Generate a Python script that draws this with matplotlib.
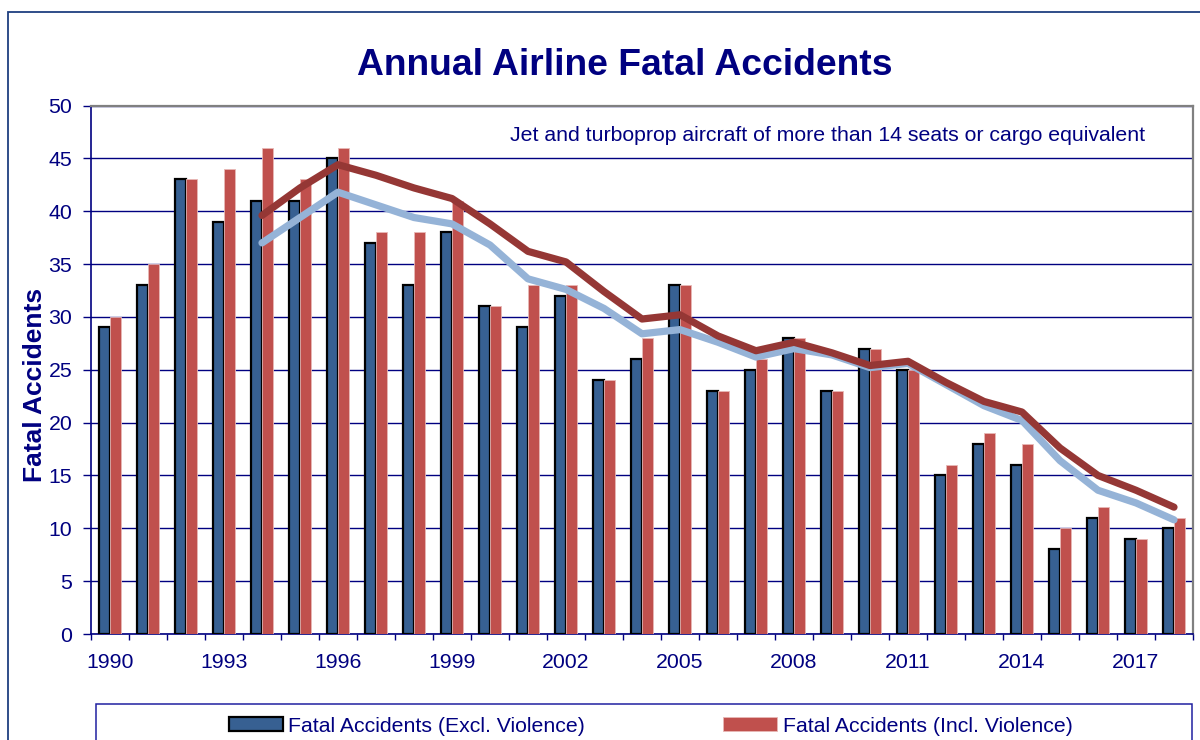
import matplotlib
matplotlib.use("Agg")
import matplotlib.pyplot as plt
from matplotlib.patches import Rectangle
import numpy as np

plt.rcParams['font.family'] = ['Liberation Sans', 'DejaVu Sans']

years = list(range(1990, 2019))
excl_violence = [29, 33, 43, 39, 41, 41, 45, 37, 33, 38, 31, 29, 32, 24, 26, 33,
                 23, 25, 28, 23, 27, 25, 15, 18, 16, 8, 11, 9, 10]
incl_violence = [30, 35, 43, 44, 46, 43, 46, 38, 38, 41, 31, 33, 33, 24, 28, 33,
                 23, 26, 28, 23, 27, 25, 16, 19, 18, 10, 12, 9, 11]
# 5-year trend lines (start 1994)
trend_years = list(range(1994, 2019))
excl_trend = [37.0, 39.4, 41.8, 40.6, 39.4, 38.8, 36.8, 33.6, 32.6, 30.8, 28.4, 28.8,
              27.6, 26.2, 27.0, 26.4, 25.2, 25.6, 23.6, 21.6, 20.2, 16.4, 13.6, 12.4, 10.8]
incl_trend = [39.6, 42.2, 44.4, 43.4, 42.2, 41.2, 38.8, 36.2, 35.2, 32.4, 29.8, 30.2,
              28.2, 26.8, 27.6, 26.6, 25.4, 25.8, 23.8, 22.0, 21.0, 17.6, 15.0, 13.6, 12.0]
label_years = [1990, 1993, 1996, 1999, 2002, 2005, 2008, 2011, 2014, 2017]

NAVY = '#000080'
BLUE = '#376092'
RED = '#C0504D'
DARKRED = '#953735'
LIGHTBLUE = '#95B3D7'
GREY = '#808080'

W, H = 1200, 740
fig = plt.figure(figsize=(12, 7.4), dpi=100)

def fx(px):
    return px / W

def fy(py):
    return 1 - py / H

# outer frame
fig.patches.append(Rectangle((fx(8), -0.2), 1.3, fy(12) + 0.2, transform=fig.transFigure,
                             fill=False, edgecolor='#1F3F80', linewidth=1.3, zorder=0))

left, right, top, bottom = 91, 1193, 105.5, 634
ax = fig.add_axes([fx(left), fy(bottom), (right - left) / W, (bottom - top) / H])

x = np.arange(len(years))
bw = 0.3
ax.bar(x - bw / 2, excl_violence, width=bw, color=BLUE, edgecolor='black',
       linewidth=1.6, zorder=3, label='Fatal Accidents (Excl. Violence)')
ax.bar(x + bw / 2, incl_violence, width=bw, color=RED, edgecolor='#E8B8B6',
       linewidth=0.6, zorder=3, label='Fatal Accidents (Incl. Violence)')

tx = np.array([years.index(y) for y in trend_years])
ax.plot(tx, excl_trend, color=LIGHTBLUE, linewidth=5.2, solid_capstyle='round',
        solid_joinstyle='round', zorder=4)
ax.plot(tx, incl_trend, color=DARKRED, linewidth=5.2, solid_capstyle='round',
        solid_joinstyle='round', zorder=5)

ax.set_xlim(-0.5, len(years) - 0.5)
ax.set_ylim(0, 50)
ax.set_yticks(np.arange(0, 51, 5))
ax.yaxis.grid(True, color=NAVY, linewidth=1.0, zorder=0)
ax.set_axisbelow(True)

ax.set_xticks([years.index(y) for y in label_years])
ax.set_xticklabels([str(y) for y in label_years])
ax.set_xticks(np.arange(-0.5, len(years)), minor=True)
ax.tick_params(axis='x', which='major', length=0, pad=13.5, labelsize=15.3, labelcolor=NAVY)
ax.tick_params(axis='x', which='minor', length=4.5, width=1.0, color=NAVY, direction='out')
ax.tick_params(axis='y', length=6, width=1.0, color=NAVY, pad=7.5, labelsize=15.3,
               labelcolor=NAVY, direction='out')

for s in ['left', 'bottom']:
    ax.spines[s].set_color(NAVY)
    ax.spines[s].set_linewidth(1.2)
for s in ['top', 'right']:
    ax.spines[s].set_color(GREY)
    ax.spines[s].set_linewidth(1.6)

ax.set_ylabel('Fatal Accidents', fontsize=19, fontweight='bold', color=NAVY)
ax.yaxis.set_label_coords((47.5 - left) / (right - left), (bottom - 384.5) / (bottom - top))

fig.text(fx(625), fy(75), 'Annual Airline Fatal Accidents', ha='center', va='baseline',
         fontsize=26.8, fontweight='bold', color=NAVY)
fig.text(fx(1145), fy(141), 'Jet and turboprop aircraft of more than 14 seats or cargo equivalent',
         ha='right', va='baseline', fontsize=15.3, color=NAVY)

# legend box
fig.patches.append(Rectangle((fx(96), -0.2), (1192 - 96) / W, fy(704) + 0.2,
                             transform=fig.transFigure, fill=False, edgecolor='#2020A0',
                             linewidth=1.1, zorder=1))
leg = ax.legend(loc='center', bbox_to_anchor=(fx(650.5), fy(726)),
                bbox_transform=fig.transFigure, ncol=2, frameon=False, fontsize=15.3,
                handlelength=2.55, handleheight=0.62, handletextpad=0.25,
                columnspacing=6.5, borderpad=0)
for t in leg.get_texts():
    t.set_color(NAVY)

fig.savefig('out.png', dpi=100)
